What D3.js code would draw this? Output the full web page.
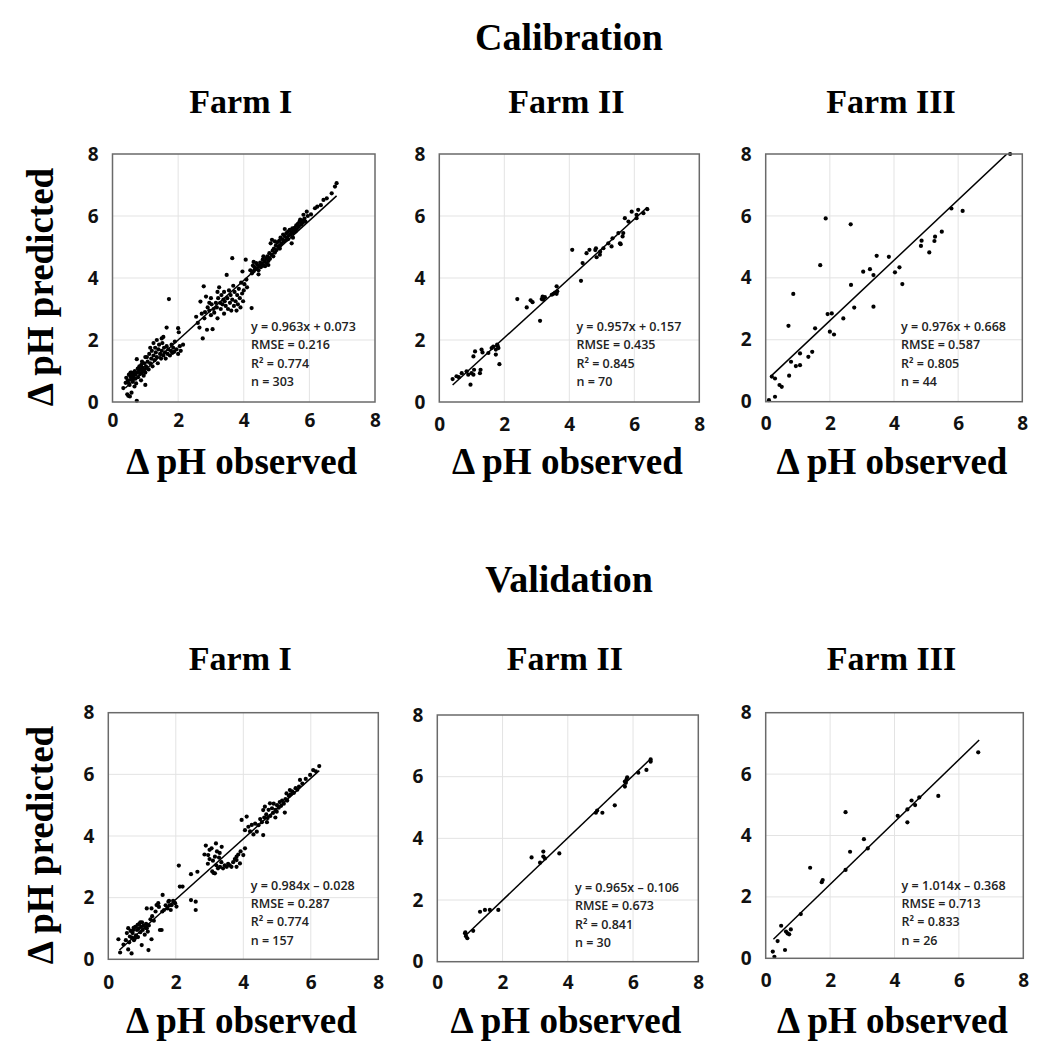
<!DOCTYPE html>
<html>
<head>
<meta charset="utf-8">
<script src="https://cdn.jsdelivr.net/npm/d3@7"></script>
<style>
  body { margin: 0; background: #fff; }
  .serif { font-family: "Liberation Serif", "Times New Roman", serif; font-weight: bold; fill: #000; }
</style>
</head>
<body>
<svg id="chart" width="1038" height="1064"></svg>
<script>
// ---- data ----
const sectionTitles = ["Calibration", "Validation"];
const farmNames = ["Farm I", "Farm II", "Farm III"];
const tickValues = [0, 2, 4, 6, 8];
const gridValues = [2, 4, 6];
const xLabel = "Δ pH observed";
const yLabel = "Δ pH predicted";

// [observed, predicted]
const calFarm1 = [
  [0.33,0.45],[0.40,0.62],[0.42,0.78],[0.45,0.25],[0.47,0.70],[0.48,0.20],[0.50,0.88],[0.52,0.55],[0.53,0.18],[0.55,0.95],
  [0.56,0.72],[0.58,0.30],[0.60,0.85],[0.62,0.65],[0.63,0.92],[0.65,0.78],[0.67,0.50],[0.68,1.00],[0.70,0.88],[0.72,0.60],
  [0.74,0.04],[0.74,1.38],[0.75,0.95],[0.77,1.08],[0.78,0.80],[0.80,0.98],[0.82,1.15],[0.84,0.90],[0.85,1.05],[0.87,0.70],
  [0.88,1.20],[0.90,0.95],[0.92,1.10],[0.94,1.00],[0.95,0.85],[0.97,1.25],[0.98,1.05],[1.00,0.95],[1.00,0.55],[0.90,1.30],
  [0.55,0.82],[0.62,0.75],[0.70,0.75],[0.48,0.62],[0.58,0.95],
  [1.02,1.15],[1.05,1.45],[1.07,1.30],[1.10,1.05],[1.12,1.55],[1.15,1.25],[1.18,1.40],[1.20,1.65],[1.22,1.15],[1.25,1.50],
  [1.28,1.35],[1.30,1.75],[1.32,1.60],[1.35,1.45],[1.38,1.25],[1.40,1.70],[1.42,1.85],[1.45,1.55],[1.48,1.40],[1.50,1.65],
  [1.52,1.90],[1.55,1.50],[1.57,1.75],[1.60,1.60],[1.62,1.40],[1.65,1.80],[1.68,1.55],[1.70,1.70],[1.72,3.32],[1.75,1.50],
  [1.78,1.65],[1.80,1.85],[1.82,1.58],[1.85,1.75],[1.88,1.62],[1.90,1.95],[1.95,1.70],[2.00,1.55],[2.02,2.25],[2.05,1.80],
  [2.08,1.65],[1.65,2.40],[1.25,1.90],[1.35,2.00],[2.15,1.85],[1.50,2.05],[1.15,1.75],[1.00,1.45],[1.55,2.10],[2.00,2.38],
  [2.55,2.75],[2.60,2.55],[2.65,2.40],[2.68,3.24],[2.72,2.85],[2.75,2.05],[2.78,3.73],[2.80,2.70],[2.82,2.90],[2.85,3.40],
  [2.88,2.33],[2.90,3.05],[2.95,2.95],[3.00,2.80],[3.02,3.15],[3.05,2.35],[3.08,3.00],[3.10,2.88],[3.15,3.20],[3.18,3.05],
  [3.20,2.70],[3.22,3.35],[3.25,3.70],[3.28,3.20],[3.30,3.00],[3.32,3.45],[3.35,3.15],[3.38,3.30],[3.40,3.55],[3.42,3.25],
  [3.45,3.10],[3.48,4.10],[3.50,3.35],[3.52,3.00],[3.55,3.60],[3.58,3.20],[3.60,3.45],[3.62,2.95],[3.65,4.64],[3.65,3.30],
  [3.68,3.75],[3.70,3.10],[3.72,3.55],[3.75,3.25],[3.78,2.95],[3.80,3.45],[3.82,3.15],[3.85,3.65],[3.88,3.35],[3.90,3.05],
  [3.92,3.85],[3.95,3.50],[3.96,4.21],[3.98,3.25],[4.00,3.60],[4.02,3.80],[4.06,4.59],[4.08,3.95],[4.10,3.70],[4.24,3.03],
  [3.20,3.55],[3.00,3.35],[2.95,3.20],[3.40,2.85],
  [4.20,4.25],[4.25,4.15],[4.28,4.40],[4.30,4.22],[4.33,4.35],[4.35,4.28],[4.38,4.48],[4.40,4.30],[4.42,4.42],[4.45,4.25],
  [4.48,4.38],[4.50,4.50],[4.52,4.35],[4.55,4.45],[4.58,4.60],[4.60,4.40],[4.62,4.52],[4.65,4.38],[4.68,4.62],[4.70,4.48],
  [4.72,4.70],[4.75,4.55],[4.78,4.80],[4.80,4.62],[4.82,5.12],[4.85,4.75],[4.86,5.23],[4.88,4.88],[4.90,4.70],[4.92,4.95],
  [4.95,4.82],[4.98,5.05],[5.00,4.90],[5.02,5.15],[5.05,5.00],[5.08,5.20],[5.10,5.05],[5.12,5.30],[5.15,5.12],[5.18,5.25],
  [5.20,5.40],[5.22,5.18],[5.25,5.35],[5.28,5.22],[5.30,5.45],[5.32,5.30],[5.35,5.50],[5.38,5.38],[5.40,5.55],[5.42,5.40],
  [5.45,5.48],[5.46,5.12],[5.48,5.60],[5.50,5.45],[5.52,5.55],[5.55,5.62],[5.58,5.50],[5.60,5.70],[5.62,5.58],[5.65,5.75],
  [5.68,5.65],[5.70,5.82],[5.72,5.88],[5.75,5.72],[5.78,5.85],[5.80,5.78],[5.82,6.04],[5.85,5.92],[5.88,5.82],[5.92,6.14],
  [5.95,6.00],[4.45,4.12],[4.60,4.70],[4.95,5.18],[5.10,4.95],[5.35,5.25],[4.30,4.52],[5.50,5.30],[5.25,5.58],[4.75,4.42],
  [6.17,6.25],[6.24,6.30],[6.43,6.52],[6.53,6.57],[6.68,6.73],[6.78,6.95],[6.83,7.06],[6.05,6.05],[6.35,6.35]
];
const calFarm2 = [
  [0.41,0.74],[0.53,0.83],[0.69,0.93],[0.84,0.99],[0.89,0.88],[0.99,0.93],[0.96,0.56],[1.05,0.88],[1.07,1.04],[1.05,1.47],
  [1.10,1.63],[1.25,0.93],[1.27,1.04],[1.30,1.69],[1.33,1.60],[1.51,1.58],[1.61,1.74],[1.66,1.79],[1.74,1.69],[1.74,1.53],
  [1.78,1.85],[1.82,1.74],[1.85,1.22],[1.80,1.80],[0.60,0.80],
  [2.40,3.32],[2.69,3.05],[2.81,3.28],[2.87,3.22],[3.10,2.62],[3.15,3.32],[3.18,3.40],[3.20,3.30],[3.46,3.46],[3.51,3.49],
  [3.56,3.53],[3.61,3.49],[3.61,3.73],[3.63,3.57],[3.25,3.38],
  [4.09,4.91],[4.36,3.91],[4.41,4.48],[4.53,4.80],[4.62,4.91],[4.82,4.96],[4.84,4.67],[4.94,4.75],[5.05,4.96],[5.20,5.12],
  [5.30,5.02],[5.51,5.45],[5.56,5.12],[5.58,5.09],[5.64,5.34],[5.66,5.45],[5.71,5.93],[5.92,6.14],[6.07,6.04],[6.12,6.20],
  [6.28,6.09],[6.40,6.22],[6.07,5.93],[5.82,5.82],[5.33,5.28],[4.80,4.90],[4.95,4.85]
];
const calFarm3 = [
  [0.10,0.05],[0.19,0.81],[0.29,0.75],[0.29,0.16],[0.43,0.54],[0.50,0.48],[0.71,2.45],[0.73,0.84],[0.79,1.29],[0.86,3.48],
  [0.94,1.15],[1.07,1.18],[1.07,1.56],[1.33,1.45],[1.45,1.61],[1.54,2.37],[1.70,4.41],[1.87,5.92],[1.93,2.83],[2.06,2.85],
  [2.00,2.26],[2.13,2.17],[2.42,2.69],[2.65,5.73],[2.66,3.77],[2.76,3.04],[3.04,4.20],[3.25,4.28],[3.36,4.09],[3.36,3.07],
  [3.46,4.71],[3.84,4.68],[4.03,4.18],[4.17,4.34],[4.26,3.80],[4.84,5.03],[4.86,5.20],[5.10,4.82],[5.26,5.19],[5.28,5.33],
  [5.49,5.49],[5.79,6.24],[6.14,6.16],[7.62,8.00]
];
const valFarm1 = [
  [0.30,0.65],[0.35,0.22],[0.45,0.48],[0.52,0.62],[0.55,0.85],[0.59,0.32],[0.59,1.01],[0.62,0.55],[0.64,0.74],[0.66,0.92],
  [0.69,0.19],[0.70,0.70],[0.72,0.85],[0.74,0.95],[0.76,0.62],[0.79,0.68],[0.80,1.05],[0.82,0.78],[0.85,0.95],[0.87,1.12],
  [0.88,0.72],[0.90,1.00],[0.92,1.15],[0.95,0.88],[0.97,1.05],[0.99,0.46],[1.00,1.20],[1.02,0.95],[1.05,1.10],[1.08,0.80],
  [1.10,1.02],[1.12,1.15],[1.14,1.01],[1.14,1.65],[1.17,0.90],[1.19,0.30],[1.20,1.10],[1.25,1.30],[1.28,0.65],[1.28,1.65],
  [1.30,1.40],[0.75,1.02],[0.95,1.20],
  [1.35,1.25],[1.40,1.55],[1.43,1.76],[1.48,1.82],[1.50,1.70],[1.53,0.95],[1.58,0.95],[1.61,2.09],[1.65,1.60],[1.70,1.75],
  [1.75,1.65],[1.78,1.87],[1.82,1.75],[1.85,1.60],[1.88,1.76],[1.92,1.90],[1.95,1.85],[1.98,1.82],[2.02,1.71],[2.09,3.04],
  [2.12,2.36],[2.20,2.36],[2.45,1.92],[2.45,2.76],[2.59,1.87],[2.59,1.60],[2.64,2.84],[1.60,1.55],[1.80,1.90],
  [2.85,3.40],[2.89,3.69],[2.95,3.10],[2.96,3.38],[3.00,3.55],[3.06,3.60],[3.08,2.85],[3.10,3.20],[3.12,2.80],[3.16,3.33],
  [3.16,2.79],[3.19,3.76],[3.20,3.05],[3.22,3.50],[3.25,2.95],[3.28,3.30],[3.31,3.00],[3.35,3.15],[3.36,3.65],[3.40,2.95],
  [3.45,3.05],[3.51,3.00],[3.55,3.10],[3.60,3.05],[3.65,3.00],[3.70,3.15],[3.75,3.25],[3.80,3.22],[3.80,3.33],[3.80,3.00],
  [3.85,3.40],[3.90,3.11],[3.92,3.50],[3.95,4.52],[4.00,3.38],[4.05,3.60],[4.05,4.19],[4.10,4.63],[3.30,3.45],[3.00,3.25],
  [4.15,4.30],[4.20,4.15],[4.25,4.36],[4.30,4.05],[4.35,4.40],[4.40,4.14],[4.45,4.35],[4.50,4.55],[4.55,4.45],[4.59,4.03],
  [4.59,4.84],[4.62,4.60],[4.64,4.95],[4.68,4.70],[4.72,4.58],[4.75,4.85],[4.79,5.06],[4.80,4.65],[4.85,4.90],[4.88,4.75],
  [4.90,5.05],[4.95,4.85],[4.99,4.79],[5.00,5.00],[5.05,4.92],[5.08,5.10],[5.12,4.98],[5.15,5.15],[5.20,5.05],[5.23,4.76],
  [5.25,5.20],[5.28,5.38],[5.30,5.15],[5.35,5.30],[5.38,5.49],[5.40,5.35],[5.45,5.45],[5.50,5.40],[5.55,5.55],[5.60,5.50],
  [5.65,5.60],[5.68,5.82],[5.75,5.70],[5.85,5.85],[5.98,5.98],[6.07,6.14],[6.15,6.10],[6.25,6.27],[4.70,4.45],[4.95,4.60]
];
const valFarm2 = [
  [0.85,0.92],[0.88,0.83],[0.92,0.76],[1.10,1.00],[1.31,1.62],[1.46,1.68],[1.61,1.68],[1.87,1.68],[2.89,3.38],[3.15,3.21],
  [3.25,3.57],[3.25,3.41],[3.30,3.35],[3.74,3.51],[4.86,4.83],[4.90,4.90],[5.06,4.83],[5.44,5.07],[5.75,5.68],[5.75,5.84],
  [5.80,5.91],[5.82,5.98],[5.78,5.80],[6.16,6.13],[6.41,6.22],[6.54,6.49],[6.54,6.56],[0.86,0.95]
];
const valFarm3 = [
  [0.22,0.22],[0.27,0.05],[0.37,0.56],[0.48,1.06],[0.60,0.27],[0.63,0.87],[0.68,0.81],[0.73,0.78],[0.78,0.94],[1.09,1.44],
  [1.38,2.95],[1.74,2.48],[1.77,2.55],[2.48,2.88],[2.48,4.76],[2.62,3.47],[3.05,3.88],[3.17,3.58],[4.10,4.64],[4.40,4.43],
  [4.40,4.85],[4.53,5.14],[4.64,4.99],[4.77,5.24],[5.36,5.29],[6.60,6.71]
];

// fitted line ends as drawn in each panel [[x0,y0],[x1,y1]]
const fitLines = [
  [[0.39,0.45],[6.83,6.65]],
  [[0.41,0.55],[6.40,6.28]],
  [[0.19,0.85],[7.62,8.10]],
  [[0.33,0.30],[6.25,6.12]],
  [[0.82,0.80],[6.54,6.58]],
  [[0.24,0.62],[6.63,7.11]]
];
const equations = ["y = 0.963x + 0.073", "y = 0.957x + 0.157", "y = 0.976x + 0.668",
                   "y = 0.984x – 0.028", "y = 0.965x – 0.106", "y = 1.014x – 0.368"];
const rmseValues = ["0.216", "0.435", "0.587", "0.287", "0.673", "0.713"];
const r2Values = ["0.774", "0.845", "0.805", "0.774", "0.841", "0.833"];
const nValues = [303, 70, 44, 157, 30, 26];

const panelData = [calFarm1, calFarm2, calFarm3, valFarm1, valFarm2, valFarm3];

// ---- layout (pixels) ----
const boxes = [
  { l: 112.5, r: 375.0, t: 154.0, b: 402.0, lab: 26 },
  { l: 439.3, r: 699.3, t: 154.0, b: 402.0, lab: 30 },
  { l: 765.7, r: 1022.3, t: 154.0, b: 401.7, lab: 29 },
  { l: 108.3, r: 378.3, t: 712.7, b: 959.3, lab: 30 },
  { l: 437.3, r: 698.3, t: 715.0, b: 961.7, lab: 28 },
  { l: 765.7, r: 1023.3, t: 712.7, b: 958.3, lab: 29 }
];
const rows = [
  { title: 50, farm: 113, xlab: 474, ylabY: 287 },
  { title: 592, farm: 670, xlab: 1033, ylabY: 845 }
];

const svg = d3.select("#chart");

rows.forEach((row, ri) => {
  svg.append("text").attr("class", "serif")
    .attr("x", 569).attr("y", row.title)
    .attr("text-anchor", "middle").attr("font-size", 38)
    .text(sectionTitles[ri]);

  svg.append("text").attr("class", "serif")
    .attr("transform", `translate(40,${row.ylabY}) rotate(-90)`)
    .attr("text-anchor", "middle").attr("dominant-baseline", "central")
    .attr("font-size", 37)
    .text(yLabel);
});

boxes.forEach((box, i) => {
  const row = rows[Math.floor(i / 3)];
  const x = d3.scaleLinear().domain([0, 8]).range([box.l, box.r]);
  const y = d3.scaleLinear().domain([0, 8]).range([box.b, box.t]);
  const g = svg.append("g");
  const cx = (box.l + box.r) / 2;

  // farm title + x label
  g.append("text").attr("class", "serif")
    .attr("x", cx - 3).attr("y", row.farm)
    .attr("text-anchor", "middle").attr("font-size", 34)
    .text(farmNames[i % 3]);
  g.append("text").attr("class", "serif")
    .attr("x", cx - 2).attr("y", row.xlab)
    .attr("text-anchor", "middle").attr("font-size", 37)
    .text(xLabel);

  // gridlines
  g.selectAll(".gx").data(gridValues).enter().append("line")
    .attr("x1", d => x(d)).attr("x2", d => x(d))
    .attr("y1", box.t).attr("y2", box.b)
    .attr("stroke", "#e3e3e3").attr("stroke-width", 1);
  g.selectAll(".gy").data(gridValues).enter().append("line")
    .attr("y1", d => y(d)).attr("y2", d => y(d))
    .attr("x1", box.l).attr("x2", box.r)
    .attr("stroke", "#e3e3e3").attr("stroke-width", 1);

  // tick labels
  const ax = g.append("g").attr("transform", `translate(0,${box.b})`)
    .call(d3.axisBottom(x).tickValues(tickValues).tickSize(0).tickPadding(box.lab - 14));
  const ay = g.append("g").attr("transform", `translate(${box.l},0)`)
    .call(d3.axisLeft(y).tickValues(tickValues).tickSize(0).tickPadding(14));
  [ax, ay].forEach(a => {
    a.select(".domain").remove();
    a.attr("font-family", "'Open Sans', Lato, sans-serif")
      .attr("font-size", 19).attr("font-weight", "bold");
    a.selectAll("text").attr("fill", "#111");
  });

  // clip
  const clipId = "clip" + i;
  svg.append("clipPath").attr("id", clipId).append("rect")
    .attr("x", box.l).attr("y", box.t)
    .attr("width", box.r - box.l).attr("height", box.b - box.t);

  // points
  g.append("g").selectAll("circle").data(panelData[i]).enter().append("circle")
    .attr("cx", d => x(d[0])).attr("cy", d => y(d[1]))
    .attr("r", 2.1).attr("fill", "#000");

  // fit line
  g.append("path").datum(fitLines[i])
    .attr("clip-path", `url(#${clipId})`)
    .attr("fill", "none").attr("stroke", "#000").attr("stroke-width", 1.5)
    .attr("d", d3.line().x(d => x(d[0])).y(d => y(d[1])));

  // frame
  g.append("rect")
    .attr("x", box.l).attr("y", box.t)
    .attr("width", box.r - box.l).attr("height", box.b - box.t)
    .attr("fill", "none").attr("stroke", "#6a6a6a").attr("stroke-width", 1.5);

  // stats
  const stats = [equations[i], "RMSE = " + rmseValues[i], "R² = " + r2Values[i], "n = " + nValues[i]];
  g.append("g").selectAll("text").data(stats).enter().append("text")
    .attr("x", x(4.22))
    .attr("y", (d, k) => box.t + 172.5 + k * 18.3)
    .attr("dominant-baseline", "central")
    .attr("font-family", "'Open Sans', Lato, sans-serif")
    .attr("font-size", 12.5).attr("font-weight", 600)
    .attr("fill", "#222")
    .text(d => d);
});
</script>
</body>
</html>
